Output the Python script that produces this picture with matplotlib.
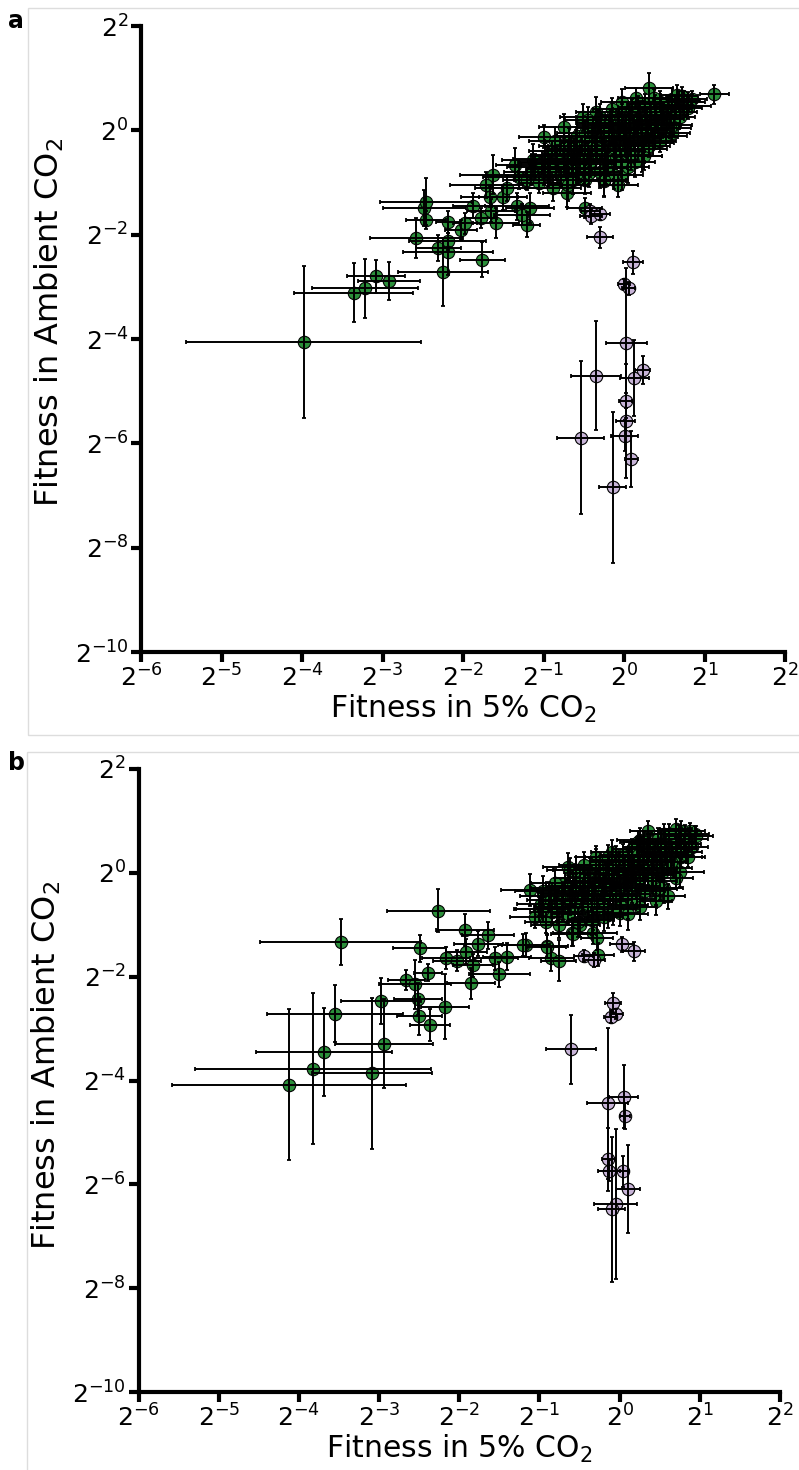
import numpy as np
import matplotlib.pyplot as plt
from matplotlib.patches import Rectangle
from matplotlib.ticker import NullLocator

# all values are log2 fitness; errors are half-widths in log2 units
# panel a, green strains
a_green_lx = [-3.98, -3.36, -3.22, -3.08, -2.92, -2.25, -1.76, -2.58, -2.31, -2.19,
              -2.19, -2.46, -2.48, -2.46, -2.19, -2.02, -1.97, -1.88, -1.78, -1.59,
              -1.65, -1.63, -1.71, -1.67, -1.50, -1.35, -1.33, -1.21, -1.17, -1.27,
              -1.13, 0.31, 1.12, 0.78, -0.99, -0.75, -0.51, -0.35, -0.49, -0.71,
              -0.48, -0.25, -0.07, -0.03, 0.22, -0.13, -1.30, -1.45,
              -1.20, -1.10, -1.05, -0.98, -0.95, -0.90, -0.88, -0.85, -0.80, -0.78,
              -0.75, -0.72, -0.70, -0.68, -0.65, -0.62, -0.60, -0.58, -0.55, -0.52,
              -0.50, -0.48, -0.45, -0.42, -0.40, -0.38, -0.35, -0.33, -0.30, -0.28,
              -0.25, -0.23, -0.20, -0.18, -0.15, -0.13, -0.10, -0.08, -0.05, -0.03,
              0.00, 0.02, 0.04, 0.06, 0.08, 0.10, 0.12, 0.14, 0.16, 0.18,
              0.20, 0.22, 0.24, 0.26, 0.28, 0.30, 0.32, 0.34, 0.36, 0.38,
              0.40, 0.42, 0.45, 0.48, 0.50, 0.52, 0.55, 0.58, 0.60, 0.62,
              0.65, 0.68, 0.70, 0.72, 0.75, 0.80, 0.85, -0.02, -0.15, -0.30,
              -0.45, 0.15, -0.60, -0.70, -0.95, -1.00, 0.25, 0.05, -0.12, 0.45,
              0.60, -0.25,
              -1.15, -1.02, -0.92, -0.83, -0.74, -0.66, -0.57, -0.49, -0.41, -0.36,
              -0.27, -0.19, -0.11, -0.06, 0.01, 0.07, 0.13, 0.19, 0.27, 0.33,
              0.39, 0.46, 0.53, 0.57, 0.63, 0.69, 0.74, 0.79, -0.63, -0.44,
              -0.22, -0.04, 0.09, 0.31, 0.47, -0.86, -0.32, 0.17, 0.37, 0.66]
a_green_ly = [-4.06, -3.11, -3.03, -2.80, -2.89, -2.71, -2.48, -2.06, -2.25, -2.13,
              -2.34, -1.72, -1.49, -1.37, -1.75, -1.91, -1.78, -1.45, -1.68, -1.77,
              -1.54, -0.85, -1.05, -1.27, -1.28, -0.66, -1.46, -1.81, -1.49, -1.62,
              -0.57, 0.81, 0.69, 0.47, -0.12, 0.07, 0.25, 0.36, -1.49, -1.21,
              -0.95, -0.98, -1.05, -0.85, -0.50, -0.57, -0.90, -1.10,
              -0.95, -0.70, -1.00, -0.55, -0.85, -0.40, -1.10, -0.65, -0.30, -0.90,
              -0.50, -0.75, -1.05, -0.20, -0.60, -0.40, -0.85, -0.10, -0.55, -0.30,
              -0.75, -0.05, -0.45, -0.65, -0.20, 0.05, -0.50, -0.30, -0.80, 0.10,
              -0.15, -0.40, -0.60, 0.20, -0.05, -0.30, -0.50, 0.15, -0.20, 0.30,
              -0.10, 0.05, -0.40, 0.25, -0.25, 0.40, 0.00, -0.60, 0.15, -0.15,
              0.35, 0.05, -0.35, 0.50, 0.20, -0.05, 0.30, 0.10, -0.25, 0.45,
              0.25, 0.05, 0.55, 0.35, 0.15, -0.10, 0.45, 0.30, 0.60, 0.10,
              0.40, 0.55, 0.25, 0.65, 0.45, 0.55, 0.60, 0.55, 0.40, 0.25,
              0.20, 0.62, -0.30, -0.45, -0.60, -0.80, -0.50, -0.70, -0.85, -0.20,
              -0.05, -0.95,
              -0.80, -0.62, -0.75, -0.48, -0.62, -0.35, -0.72, -0.22, -0.58, -0.12,
              -0.35, -0.02, -0.40, 0.08, -0.28, 0.12, -0.18, 0.28, 0.00, 0.18,
              -0.12, 0.40, 0.22, 0.05, 0.48, 0.35, 0.58, 0.42, -0.95, -0.82,
              -0.72, -0.60, -0.48, -0.30, 0.05, -0.20, 0.15, 0.45, 0.62, 0.68]
a_green_ex = [1.46, 0.74, 0.66, 0.36, 0.38, 0.56, 0.28, 0.58, 0.28, 0.48,
              0.56, 0.25, 0.52, 0.57, 0.15, 0.20, 0.15, 0.24, 0.20, 0.29,
              0.30, 0.41, 0.45, 0.35, 0.30, 0.24, 0.40, 0.17, 0.30, 0.35,
              0.38, 0.30, 0.18, 0.30, 0.31, 0.30, 0.28, 0.25, 0.22, 0.30,
              0.34, 0.28, 0.24, 0.26, 0.25, 0.30, 0.45, 0.40,
              0.30, 0.35, 0.25, 0.40, 0.30, 0.28, 0.35, 0.30, 0.25, 0.22,
              0.40, 0.30, 0.25, 0.30, 0.35, 0.28, 0.30, 0.25, 0.32, 0.26,
              0.30, 0.35, 0.24, 0.30, 0.28, 0.22, 0.30, 0.26, 0.28, 0.30,
              0.24, 0.32, 0.26, 0.28, 0.30, 0.22, 0.28, 0.25, 0.30, 0.24,
              0.26, 0.30, 0.22, 0.28, 0.26, 0.24, 0.30, 0.25, 0.22, 0.28,
              0.26, 0.24, 0.30, 0.22, 0.26, 0.28, 0.24, 0.22, 0.26, 0.24,
              0.20, 0.26, 0.22, 0.24, 0.20, 0.26, 0.22, 0.20, 0.24, 0.22,
              0.20, 0.22, 0.18, 0.20, 0.18, 0.20, 0.18, 0.26, 0.24, 0.30,
              0.28, 0.22, 0.34, 0.30, 0.36, 0.32, 0.22, 0.26, 0.24, 0.20,
              0.22, 0.28,
              0.34, 0.30, 0.28, 0.32, 0.26, 0.30, 0.34, 0.28, 0.30, 0.24,
              0.32, 0.26, 0.30, 0.28, 0.26, 0.30, 0.24, 0.28, 0.26, 0.22,
              0.28, 0.24, 0.22, 0.26, 0.20, 0.22, 0.20, 0.18, 0.30, 0.28,
              0.26, 0.30, 0.24, 0.26, 0.22, 0.32, 0.28, 0.24, 0.22, 0.20]
a_green_ey = [1.45, 0.57, 0.57, 0.32, 0.36, 0.65, 0.34, 0.38, 0.25, 0.16,
              0.43, 0.18, 0.35, 0.45, 0.21, 0.20, 0.20, 0.24, 0.20, 0.29,
              0.22, 0.37, 0.25, 0.20, 0.24, 0.32, 0.26, 0.24, 0.28, 0.20,
              0.30, 0.28, 0.18, 0.18, 0.22, 0.24, 0.26, 0.28, 0.20, 0.26,
              0.28, 0.30, 0.22, 0.30, 0.30, 0.26, 0.22, 0.25,
              0.20, 0.25, 0.20, 0.30, 0.22, 0.20, 0.25, 0.30, 0.20, 0.18,
              0.25, 0.20, 0.30, 0.25, 0.22, 0.26, 0.20, 0.30, 0.24, 0.20,
              0.28, 0.22, 0.20, 0.25, 0.30, 0.20, 0.22, 0.24, 0.30, 0.26,
              0.20, 0.22, 0.28, 0.20, 0.24, 0.18, 0.25, 0.22, 0.30, 0.20,
              0.22, 0.26, 0.20, 0.24, 0.22, 0.20, 0.28, 0.30, 0.18, 0.24,
              0.22, 0.20, 0.26, 0.20, 0.24, 0.22, 0.20, 0.18, 0.24, 0.22,
              0.20, 0.22, 0.20, 0.18, 0.22, 0.20, 0.20, 0.18, 0.22, 0.20,
              0.18, 0.20, 0.16, 0.18, 0.16, 0.18, 0.16, 0.24, 0.22, 0.26,
              0.24, 0.20, 0.30, 0.26, 0.28, 0.24, 0.26, 0.30, 0.28, 0.22,
              0.20, 0.30,
              0.24, 0.22, 0.28, 0.20, 0.26, 0.22, 0.30, 0.24, 0.20, 0.26,
              0.22, 0.28, 0.20, 0.24, 0.22, 0.26, 0.20, 0.24, 0.22, 0.18,
              0.24, 0.20, 0.22, 0.20, 0.18, 0.22, 0.18, 0.20, 0.28, 0.26,
              0.30, 0.24, 0.28, 0.22, 0.20, 0.26, 0.24, 0.20, 0.18, 0.18]

# panel a, purple strains
a_purple_lx = [-0.42, -0.41, -0.30, -0.30, 0.11, 0.00, 0.06, 0.03, -0.35, 0.13,
               0.23, 0.02, 0.02, 0.01, -0.54, 0.09, -0.14]
a_purple_ly = [-1.54, -1.65, -1.60, -2.05, -2.53, -2.95, -3.03, -4.08, -4.70, -4.75,
               -4.60, -5.18, -5.57, -5.85, -5.89, -6.30, -6.84]
a_purple_ex = [0.12, 0.14, 0.12, 0.16, 0.12, 0.08, 0.08, 0.25, 0.31, 0.18,
               0.09, 0.08, 0.12, 0.17, 0.29, 0.08, 0.17]
a_purple_ey = [0.12, 0.14, 0.12, 0.20, 0.22, 0.10, 0.12, 1.44, 1.04, 0.73,
               0.27, 0.15, 1.10, 0.30, 1.46, 0.54, 1.45]

# panel b, green strains
b_green_lx = [-3.48, -2.26, -2.49, -2.16, -2.39, -2.66, -2.55, -2.51, -2.98, -2.18,
              -2.50, -2.37, -3.55, -2.94, -3.69, -3.82, -3.09, -4.12, -1.93, -1.76,
              -1.83, -1.85, -1.50, -1.55, -1.41, -2.03, -1.91, -1.64, -1.12, -0.65,
              -0.85, -0.76, -0.90, -0.59, -0.33, -0.28, -0.27, -0.14, 0.01, -0.33,
              -1.17, -1.20, 0.11, 0.25, 0.52, 0.75, 0.45, 0.55, 0.94, 0.76,
              0.23, -0.91, -0.50, -0.58,
              -1.05, -0.98, -0.92, -0.88, -0.84, -0.80, -0.76, -0.72, -0.68, -0.64,
              -0.60, -0.56, -0.52, -0.50, -0.46, -0.43, -0.40, -0.37, -0.34, -0.31,
              -0.28, -0.25, -0.22, -0.20, -0.17, -0.15, -0.12, -0.10, -0.08, -0.05,
              -0.03, 0.00, 0.02, 0.04, 0.06, 0.08, 0.10, 0.12, 0.14, 0.16,
              0.18, 0.20, 0.22, 0.24, 0.26, 0.28, 0.30, 0.32, 0.34, 0.36,
              0.38, 0.40, 0.42, 0.44, 0.46, 0.48, 0.50, 0.53, 0.56, 0.59,
              0.62, 0.65, 0.68, 0.71, 0.74, 0.77, 0.80, 0.83, 0.86, 0.90,
              0.95, 0.88, 0.70, 0.55, -0.10, -0.30, -0.45, -0.62, 0.35, -0.58,
              -0.70, -0.95, -1.00, 0.25, 0.10, -0.20, 0.50, 0.70, -0.35, 0.60,
              -0.95, -0.86, -0.78, -0.70, -0.62, -0.54, -0.47, -0.39, -0.32, -0.26,
              -0.19, -0.13, -0.07, -0.01, 0.05, 0.11, 0.17, 0.23, 0.29, 0.35,
              0.41, 0.47, 0.52, 0.58, 0.64, 0.70, 0.76, 0.82, -0.80, -0.55,
              -0.30, -0.05, 0.15, 0.40, 0.62, -0.40, -0.15, 0.30, 0.85, 0.45]
b_green_ly = [-1.33, -0.73, -1.45, -1.64, -1.92, -2.07, -2.15, -2.43, -2.47, -2.58,
              -2.76, -2.93, -2.71, -3.29, -3.45, -3.77, -3.86, -4.08, -1.10, -1.37,
              -1.78, -2.13, -1.95, -1.65, -1.62, -1.69, -1.52, -1.20, -0.33, 0.12,
              -1.65, -1.69, -1.41, -1.15, -1.16, -1.25, -1.58, -0.81, -0.78, -0.88,
              -1.39, -1.39, -0.62, 0.63, 0.60, 0.02, -0.32, -0.30, 0.75, 0.81,
              0.60, -1.42, -1.01, -1.17,
              -0.85, -0.60, -0.95, -0.45, -0.75, -0.30, -1.00, -0.55, -0.20, -0.80,
              -0.40, -0.65, -0.95, -0.10, -0.50, -0.30, -0.75, 0.00, -0.45, -0.20,
              -0.65, 0.10, -0.35, -0.55, -0.10, 0.20, -0.40, -0.20, -0.70, 0.25,
              -0.05, -0.30, -0.50, 0.35, 0.05, -0.15, -0.40, 0.25, -0.05, 0.45,
              0.10, -0.25, -0.50, 0.30, -0.10, 0.50, 0.15, -0.35, 0.35, 0.00,
              0.55, 0.20, -0.15, 0.40, 0.10, 0.65, 0.30, 0.00, 0.45, 0.20,
              0.60, 0.35, 0.10, 0.50, 0.70, 0.30, 0.55, 0.40, 0.65, 0.50,
              0.70, 0.80, 0.85, 0.75, 0.40, 0.30, 0.15, 0.05, 0.80, -0.25,
              -0.65, -0.35, -0.70, -0.65, -0.80, -0.85, -0.30, -0.10, -0.90, -0.45,
              -0.70, -0.52, -0.65, -0.38, -0.55, -0.25, -0.60, -0.15, -0.35, -0.02,
              -0.28, 0.08, -0.12, 0.15, -0.22, 0.20, 0.02, 0.35, 0.10, 0.45,
              0.25, 0.05, 0.55, 0.38, 0.20, 0.60, 0.45, 0.72, -0.20, 0.05,
              0.15, -0.45, -0.30, -0.05, 0.75, -0.60, 0.30, 0.60, 0.30, -0.55]
b_green_ex = [1.00, 0.64, 0.33, 0.30, 0.18, 0.23, 0.45, 0.30, 0.50, 0.30,
              0.28, 0.25, 0.85, 0.61, 0.85, 1.47, 0.75, 1.46, 0.36, 0.30,
              0.25, 0.30, 0.38, 0.28, 0.30, 0.30, 0.26, 0.32, 0.36, 0.30,
              0.28, 0.22, 0.26, 0.24, 0.30, 0.20, 0.20, 0.24, 0.22, 0.26,
              0.30, 0.32, 0.24, 0.28, 0.30, 0.30, 0.26, 0.24, 0.18, 0.20,
              0.22, 0.24, 0.26, 0.28,
              0.32, 0.30, 0.26, 0.36, 0.28, 0.30, 0.34, 0.28, 0.24, 0.22,
              0.38, 0.30, 0.26, 0.30, 0.34, 0.28, 0.30, 0.24, 0.30, 0.26,
              0.30, 0.32, 0.24, 0.28, 0.28, 0.22, 0.30, 0.26, 0.28, 0.30,
              0.24, 0.30, 0.26, 0.28, 0.30, 0.22, 0.28, 0.25, 0.30, 0.24,
              0.26, 0.30, 0.22, 0.28, 0.26, 0.24, 0.30, 0.25, 0.22, 0.28,
              0.26, 0.24, 0.30, 0.22, 0.26, 0.28, 0.24, 0.22, 0.26, 0.24,
              0.20, 0.26, 0.22, 0.24, 0.20, 0.26, 0.22, 0.20, 0.24, 0.20,
              0.22, 0.18, 0.20, 0.22, 0.26, 0.24, 0.30, 0.28, 0.22, 0.34,
              0.30, 0.36, 0.32, 0.22, 0.26, 0.24, 0.20, 0.22, 0.28, 0.22,
              0.34, 0.30, 0.28, 0.32, 0.26, 0.30, 0.34, 0.28, 0.30, 0.24,
              0.32, 0.26, 0.30, 0.28, 0.26, 0.30, 0.24, 0.28, 0.26, 0.22,
              0.28, 0.24, 0.22, 0.26, 0.20, 0.22, 0.20, 0.18, 0.30, 0.28,
              0.26, 0.30, 0.24, 0.26, 0.22, 0.32, 0.28, 0.24, 0.22, 0.20]
b_green_ey = [0.44, 0.41, 0.26, 0.22, 0.16, 0.19, 0.48, 0.30, 0.45, 0.63,
              0.37, 0.31, 0.55, 0.86, 0.85, 1.45, 1.45, 1.46, 0.30, 0.24,
              0.22, 0.30, 0.24, 0.22, 0.26, 0.20, 0.24, 0.26, 0.30, 0.26,
              0.24, 0.40, 0.24, 0.26, 0.22, 0.24, 0.22, 0.26, 0.24, 0.22,
              0.24, 0.22, 0.26, 0.24, 0.22, 0.30, 0.30, 0.28, 0.16, 0.18,
              0.20, 0.22, 0.22, 0.24,
              0.22, 0.25, 0.20, 0.28, 0.22, 0.20, 0.26, 0.30, 0.20, 0.18,
              0.24, 0.22, 0.28, 0.24, 0.22, 0.26, 0.20, 0.28, 0.24, 0.20,
              0.26, 0.22, 0.20, 0.24, 0.28, 0.20, 0.22, 0.24, 0.30, 0.26,
              0.20, 0.22, 0.28, 0.20, 0.24, 0.18, 0.25, 0.22, 0.28, 0.20,
              0.22, 0.26, 0.20, 0.24, 0.22, 0.20, 0.28, 0.28, 0.18, 0.24,
              0.22, 0.20, 0.26, 0.20, 0.24, 0.22, 0.20, 0.18, 0.24, 0.22,
              0.20, 0.22, 0.20, 0.18, 0.22, 0.20, 0.20, 0.18, 0.22, 0.18,
              0.20, 0.16, 0.18, 0.20, 0.24, 0.22, 0.26, 0.24, 0.20, 0.30,
              0.26, 0.28, 0.24, 0.26, 0.30, 0.28, 0.22, 0.20, 0.30, 0.24,
              0.24, 0.22, 0.28, 0.20, 0.26, 0.22, 0.30, 0.24, 0.20, 0.26,
              0.22, 0.28, 0.20, 0.24, 0.22, 0.26, 0.20, 0.24, 0.22, 0.18,
              0.24, 0.20, 0.22, 0.20, 0.18, 0.22, 0.18, 0.20, 0.28, 0.26,
              0.30, 0.24, 0.28, 0.22, 0.20, 0.26, 0.24, 0.20, 0.18, 0.26]

# panel b, purple strains
b_purple_lx = [-0.45, -0.32, 0.03, 0.18, -0.08, -0.04, -0.11, -0.61, -0.15, 0.05,
               0.07, -0.14, -0.13, 0.04, 0.11, -0.05, -0.10]
b_purple_ly = [-1.60, -1.68, -1.38, -1.51, -2.51, -2.72, -2.77, -3.40, -4.44, -4.31,
               -4.68, -5.52, -5.74, -5.75, -6.09, -6.38, -6.48]
b_purple_ex = [0.12, 0.14, 0.15, 0.14, 0.10, 0.08, 0.08, 0.31, 0.26, 0.18,
               0.06, 0.08, 0.14, 0.08, 0.15, 0.27, 0.17]
b_purple_ey = [0.12, 0.14, 0.14, 0.18, 0.19, 0.10, 0.12, 0.67, 1.45, 0.60,
               0.25, 0.60, 0.20, 0.30, 0.84, 1.45, 1.40]

green = '#2b8f3a'
purple = '#c8b4d8'


def draw_series(ax, lx, ly, ex, ey, color):
    lx = np.array(lx); ly = np.array(ly)
    ex = np.array(ex); ey = np.array(ey)
    x = 2.0**lx
    y = 2.0**ly
    xerr = [x - 2.0**(lx - ex), 2.0**(lx + ex) - x]
    yerr = [y - 2.0**(ly - ey), 2.0**(ly + ey) - y]
    ax.scatter(x, y, s=80, c=color, edgecolors='black', linewidths=0.8, zorder=2)
    ax.errorbar(x, y, xerr=xerr, yerr=yerr, fmt='none', ecolor='black',
                elinewidth=1.4, capsize=1.5, capthick=1.3, zorder=3)


def style_axes(ax, label_y):
    ax.set_xscale('log', base=2)
    ax.set_yscale('log', base=2)
    ax.set_xlim(2.0**-6, 2.0**2)
    ax.set_ylim(2.0**-10, 2.0**2)
    ax.set_xticks([2.0**k for k in range(-6, 3)])
    ax.set_yticks([2.0**k for k in range(-10, 3, 2)])
    ax.xaxis.set_minor_locator(NullLocator())
    ax.yaxis.set_minor_locator(NullLocator())
    for s in ['top', 'right']:
        ax.spines[s].set_visible(False)
    for s in ['left', 'bottom']:
        ax.spines[s].set_linewidth(3)
    ax.tick_params(direction='out', length=7, width=3, labelsize=18, pad=2)
    ax.set_xlabel('Fitness in 5% CO$_2$', fontsize=21.5, labelpad=1)
    ax.set_ylabel('Fitness in Ambient CO$_2$', fontsize=23)
    ax.yaxis.set_label_coords(-0.117, label_y)


fig = plt.figure(figsize=(7.99, 14.70), dpi=100)

# light panel frames
fig.patches.append(Rectangle((28 / 799, 1 - 735 / 1470), 1.0, 727 / 1470,
                             transform=fig.transFigure, fill=False,
                             edgecolor='#dddddd', linewidth=1))
fig.patches.append(Rectangle((27 / 799, -0.01), 1.0, 1 - 752 / 1470 + 0.01,
                             transform=fig.transFigure, fill=False,
                             edgecolor='#dddddd', linewidth=1))

ax_a = fig.add_axes([141 / 799, 1 - 652 / 1470, 644 / 799, 626 / 1470])
draw_series(ax_a, a_green_lx, a_green_ly, a_green_ex, a_green_ey, green)
draw_series(ax_a, a_purple_lx, a_purple_ly, a_purple_ex, a_purple_ey, purple)
style_axes(ax_a, 0.527)

ax_b = fig.add_axes([138.5 / 799, 1 - 1392 / 1470, 641.5 / 799, 623 / 1470])
draw_series(ax_b, b_green_lx, b_green_ly, b_green_ex, b_green_ey, green)
draw_series(ax_b, b_purple_lx, b_purple_ly, b_purple_ex, b_purple_ey, purple)
style_axes(ax_b, 0.525)

fig.text(8 / 799, 1 - 28 / 1470, 'a', fontsize=17, fontweight='bold')
fig.text(8 / 799, 1 - 770 / 1470, 'b', fontsize=17, fontweight='bold')

fig.savefig('out.png', dpi=100)
